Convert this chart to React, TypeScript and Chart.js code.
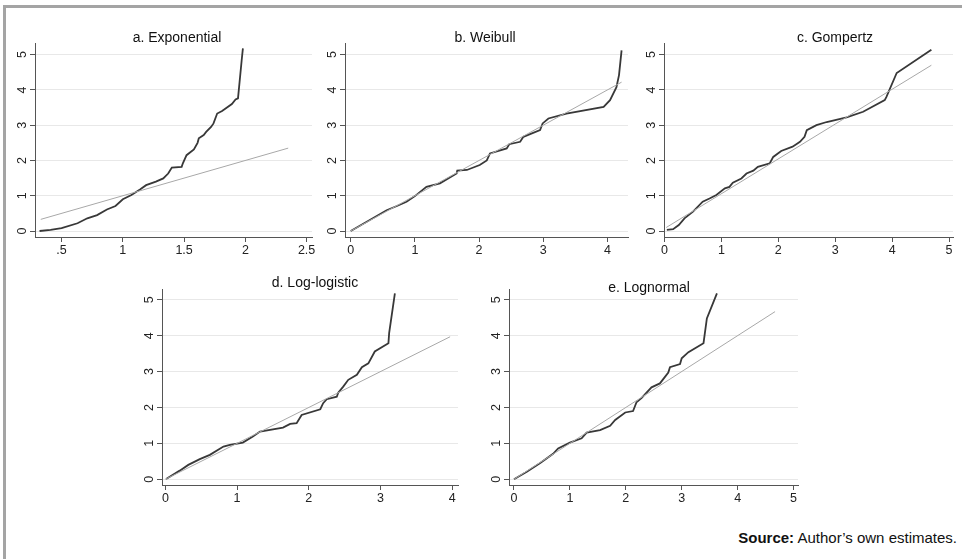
import React, { useEffect, useRef } from "react";
import { Chart, registerables } from "chart.js";
Chart.register(...registerables);

// ---------- data ----------
const yTickValues = [0, 1, 2, 3, 4, 5];

// a. Exponential
const expX = [0.32, 0.41, 0.5, 0.63, 0.71, 0.79, 0.87, 0.94, 1.0, 1.07, 1.14, 1.19, 1.27, 1.33, 1.37, 1.4, 1.48, 1.49, 1.52, 1.58, 1.61, 1.62, 1.66, 1.68, 1.72, 1.74, 1.77, 1.81, 1.89, 1.92, 1.94, 1.97, 1.98];
const expY = [0, 0.03, 0.08, 0.22, 0.36, 0.45, 0.61, 0.71, 0.9, 1.02, 1.18, 1.3, 1.4, 1.49, 1.63, 1.8, 1.82, 1.92, 2.15, 2.31, 2.5, 2.63, 2.72, 2.81, 2.95, 3.05, 3.33, 3.4, 3.6, 3.73, 3.76, 4.84, 5.18];
const expFitX = [0.33, 2.35];
const expFitY = [0.33, 2.35];
const expXTicks = [0.5, 1, 1.5, 2, 2.5];

// b. Weibull
const weiX = [0, 0.25, 0.56, 0.72, 0.87, 1.0, 1.18, 1.39, 1.65, 1.66, 1.81, 2.01, 2.12, 2.17, 2.43, 2.47, 2.64, 2.69, 2.95, 2.99, 3.08, 3.36, 3.94, 4.04, 4.14, 4.18, 4.22];
const weiY = [0, 0.26, 0.59, 0.71, 0.83, 0.99, 1.25, 1.35, 1.63, 1.71, 1.73, 1.87, 2.0, 2.2, 2.34, 2.46, 2.53, 2.67, 2.86, 3.05, 3.19, 3.33, 3.52, 3.71, 4.08, 4.42, 5.12];
const weiFitX = [0, 4.22];
const weiFitY = [0, 4.22];
const weiXTicks = [0, 1, 2, 3, 4];

// c. Gompertz
const gomX = [0.04, 0.15, 0.25, 0.35, 0.5, 0.67, 0.79, 0.91, 1.06, 1.14, 1.2, 1.35, 1.44, 1.56, 1.64, 1.85, 1.91, 2.05, 2.25, 2.38, 2.46, 2.5, 2.67, 2.85, 3.2, 3.49, 3.87, 3.9, 4.08, 4.69];
const gomY = [0.03, 0.05, 0.17, 0.36, 0.55, 0.83, 0.92, 1.02, 1.21, 1.25, 1.37, 1.49, 1.63, 1.71, 1.82, 1.92, 2.1, 2.27, 2.39, 2.53, 2.67, 2.86, 3.0, 3.09, 3.22, 3.38, 3.71, 3.8, 4.48, 5.14];
const gomFitX = [0.03, 4.69];
const gomFitY = [0.1, 4.7];
const gomXTicks = [0, 1, 2, 3, 4, 5];

// d. Log-logistic
const llX = [0.01, 0.2, 0.32, 0.48, 0.62, 0.81, 0.9, 1.08, 1.22, 1.32, 1.64, 1.74, 1.83, 1.9, 2.16, 2.2, 2.25, 2.39, 2.41, 2.48, 2.55, 2.67, 2.74, 2.83, 2.92, 3.11, 3.12, 3.2];
const llY = [0.01, 0.24, 0.4, 0.56, 0.68, 0.91, 0.96, 1.02, 1.19, 1.33, 1.44, 1.54, 1.56, 1.79, 1.95, 2.12, 2.23, 2.3, 2.41, 2.58, 2.77, 2.91, 3.12, 3.23, 3.56, 3.79, 4.07, 5.18];
const llFitX = [0, 3.97];
const llFitY = [0, 3.97];
const llXTicks = [0, 1, 2, 3, 4];

// e. Lognormal
const lnX = [0, 0.23, 0.47, 0.7, 0.79, 1.0, 1.21, 1.3, 1.54, 1.72, 1.81, 1.99, 2.13, 2.19, 2.28, 2.46, 2.61, 2.68, 2.76, 2.79, 2.97, 3.0, 3.12, 3.39, 3.45, 3.63];
const lnY = [0, 0.21, 0.45, 0.71, 0.86, 1.02, 1.14, 1.3, 1.37, 1.49, 1.65, 1.86, 1.9, 2.14, 2.26, 2.56, 2.67, 2.81, 2.97, 3.12, 3.21, 3.37, 3.54, 3.79, 4.48, 5.18];
const lnFitX = [0, 4.67];
const lnFitY = [0, 4.67];
const lnXTicks = [0, 1, 2, 3, 4, 5];

const titles = ["a. Exponential", "b. Weibull", "c. Gompertz", "d. Log-logistic", "e. Lognormal"];

// ---------- layout ----------
type Spec = {
  title: string;
  cx: number;
  baseline: number;
  L: number; R: number; T: number; B: number;
  xMin: number; xMax: number; yMin: number; yMax: number;
  xTicks: number[];
  cX: number[]; cY: number[]; fX: number[]; fY: number[];
};

const specs: Spec[] = [
  { title: titles[0], cx: 177, baseline: 42, L: 35, R: 312, T: 43, B: 237, xMin: 0.283, xMax: 2.544, yMin: -0.17, yMax: 5.33, xTicks: expXTicks, cX: expX, cY: expY, fX: expFitX, fY: expFitY },
  { title: titles[1], cx: 485, baseline: 42, L: 345, R: 628, T: 43, B: 237, xMin: -0.089, xMax: 4.32, yMin: -0.17, yMax: 5.33, xTicks: weiXTicks, cX: weiX, cY: weiY, fX: weiFitX, fY: weiFitY },
  { title: titles[2], cx: 835, baseline: 42, L: 664, R: 953, T: 43, B: 237, xMin: -0.01, xMax: 5.07, yMin: -0.17, yMax: 5.33, xTicks: gomXTicks, cX: gomX, cY: gomY, fX: gomFitX, fY: gomFitY },
  { title: titles[3], cx: 315, baseline: 287, L: 162, R: 458, T: 289, B: 485, xMin: -0.047, xMax: 4.08, yMin: -0.16, yMax: 5.3, xTicks: llXTicks, cX: llX, cY: llY, fX: llFitX, fY: llFitY },
  { title: titles[4], cx: 649, baseline: 292, L: 509, R: 798, T: 289, B: 485, xMin: -0.089, xMax: 5.08, yMin: -0.16, yMax: 5.3, xTicks: lnXTicks, cX: lnX, cY: lnY, fX: lnFitX, fY: lnFitY },
];

const FONT = '"Liberation Sans", Arial, sans-serif';
const fmt = (v: number) => {
  const s = String(Math.round(v * 100) / 100);
  return s.startsWith("0.") ? s.slice(1) : s;
};

function Panel({ spec }: { spec: Spec }) {
  const ref = useRef<HTMLCanvasElement>(null);
  const padTop = 14, padRight = 12, yW = 30, xH = 26;
  const left = spec.L - yW;
  const top = spec.T - padTop;
  const w = spec.R + padRight - left;
  const h = spec.B + xH - top;

  useEffect(() => {
    const tickFont = { family: FONT, size: 12.5 };
    const chart = new Chart(ref.current as HTMLCanvasElement, {
      type: "scatter",
      data: {
        datasets: [
          {
            data: spec.fX.map((x, i) => ({ x, y: spec.fY[i] })),
            showLine: true,
            borderColor: "#a8a8a8",
            borderWidth: 1,
            pointRadius: 0,
          },
          {
            data: spec.cX.map((x, i) => ({ x, y: spec.cY[i] })),
            showLine: true,
            borderColor: "#383838",
            borderWidth: 1.8,
            pointRadius: 0,
          },
        ],
      },
      options: {
        responsive: false,
        animation: false,
        events: [],
        layout: { padding: { top: padTop, right: padRight, left: 0, bottom: 0 } },
        plugins: { legend: { display: false }, tooltip: { enabled: false }, title: { display: false } },
        scales: {
          x: {
            type: "linear",
            min: spec.xMin,
            max: spec.xMax,
            afterFit: (s: any) => { s.height = xH; },
            afterBuildTicks: (s: any) => { s.ticks = spec.xTicks.map((v) => ({ value: v })); },
            grid: { color: "rgba(0,0,0,0)", tickColor: "#555", tickLength: 5, drawOnChartArea: false },
            border: { color: "#555", width: 1 },
            ticks: { padding: 1, font: tickFont, color: "#222", maxRotation: 0, autoSkip: false, callback: (v: any) => fmt(Number(v)) },
          },
          y: {
            type: "linear",
            min: spec.yMin,
            max: spec.yMax,
            afterFit: (s: any) => { s.width = yW; },
            afterBuildTicks: (s: any) => { s.ticks = yTickValues.map((v) => ({ value: v })); },
            grid: { color: "#e8e8e8", tickColor: "#555", tickLength: 5 },
            border: { color: "#555", width: 1 },
            ticks: { padding: 4, font: tickFont, color: "#222", minRotation: 90, maxRotation: 90, crossAlign: "center", autoSkip: false, callback: (v: any) => fmt(Number(v)) },
          },
        },
      } as any,
    });
    return () => chart.destroy();
  }, []);

  return (
    <>
      <canvas ref={ref} width={w} height={h} style={{ position: "absolute", left, top, width: w, height: h }} />
      <div
        style={{
          position: "absolute",
          left: spec.cx - 150,
          width: 300,
          top: spec.baseline - 12.9,
          lineHeight: "16px",
          fontSize: 14,
          fontFamily: FONT,
          textAlign: "center",
          color: "#111",
          whiteSpace: "nowrap",
        }}
      >
        {spec.title}
      </div>
    </>
  );
}

export default function App() {
  return (
    <div style={{ position: "absolute", left: 0, top: 0, width: 962, height: 559, background: "#fff", overflow: "hidden" }}>
      <div style={{ position: "absolute", left: 3, top: 5, width: 3, height: 554, background: "#a4a4a4" }} />
      <div style={{ position: "absolute", left: 3, top: 5, width: 959, height: 3, background: "#a4a4a4" }} />
      {specs.map((s, i) => (
        <Panel key={i} spec={s} />
      ))}
      <div
        style={{
          position: "absolute",
          right: 5,
          top: 529.3,
          lineHeight: "17px",
          fontSize: 15,
          fontFamily: FONT,
          color: "#111",
          whiteSpace: "nowrap",
        }}
      >
        <b>Source:</b> Author’s own estimates.
      </div>
    </div>
  );
}
